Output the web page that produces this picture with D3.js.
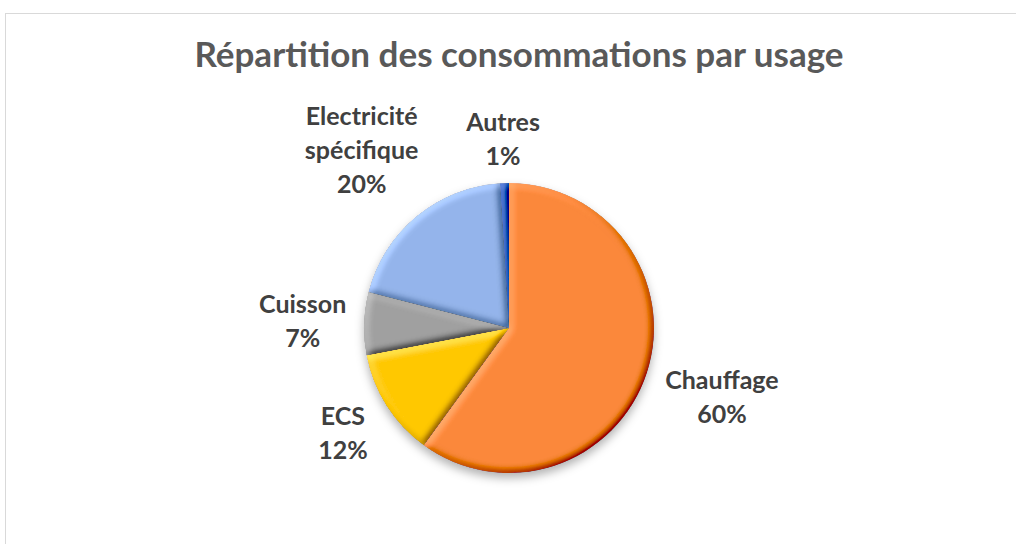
<!DOCTYPE html>
<html>
<head>
<meta charset="utf-8">
<script src="https://cdn.jsdelivr.net/npm/d3@7"></script>
<style>
  body { margin: 0; background: #fff; }
</style>
</head>
<body>
<div class="graph"></div>
<script>
const categories = ["Chauffage", "ECS", "Cuisson", "Electricité spécifique", "Autres"]
const labelLines = [["Chauffage"], ["ECS"], ["Cuisson"], ["Electricité", "spécifique"], ["Autres"]]
const values = [60, 12, 7, 20, 1]
const colors = ["#FA883A", "#FFC800", "#A0A0A0", "#94B4EA", "#2C5FBE"]

const width = 1016, height = 544
const cx = 509, cy = 328, radius = 145

const data = categories.map((c, i) => ({ name: c, lines: labelLines[i], value: values[i], color: colors[i] }))
const total = d3.sum(values)

const svg = d3.select(".graph").append("svg")
    .attr("width", width)
    .attr("height", height)
    .style("font-family", "Lato, 'Open Sans', sans-serif")

const defs = svg.append("defs")

// bevel : lumière en haut à gauche sur chaque part
const bevel = defs.append("filter").attr("id", "bevel")
    .attr("x", "-5%").attr("y", "-5%").attr("width", "110%").attr("height", "110%")
bevel.append("feGaussianBlur").attr("in", "SourceAlpha").attr("stdDeviation", 3.5).attr("result", "blur")
bevel.append("feDiffuseLighting")
    .attr("in", "blur").attr("surfaceScale", 3).attr("diffuseConstant", 0.5 / Math.sin(Math.PI / 4))
    .attr("lighting-color", "#fff").attr("result", "light")
    .append("feDistantLight").attr("azimuth", 225).attr("elevation", 45)
// flat : L = 0.5 -> couleur inchangée ; bords sombres multipliés, bords clairs éclaircis
bevel.append("feComposite")
    .attr("in", "SourceGraphic").attr("in2", "light")
    .attr("operator", "arithmetic")
    .attr("k1", 1.4).attr("k2", 0.3).attr("k3", 0.4).attr("k4", -0.2)
    .attr("result", "lit")
bevel.append("feComposite").attr("in", "lit").attr("in2", "SourceAlpha").attr("operator", "in")

// ombre portée sous le camembert
const shadow = defs.append("filter").attr("id", "shadow")
    .attr("x", "-20%").attr("y", "-20%").attr("width", "140%").attr("height", "150%")
shadow.append("feDropShadow")
    .attr("dx", 0).attr("dy", 5).attr("stdDeviation", 5)
    .attr("flood-color", "#000").attr("flood-opacity", 0.3)

// cadre de la zone graphique
svg.append("rect")
    .attr("x", 5.5).attr("y", 13.5)
    .attr("width", width + 20).attr("height", height + 20)
    .attr("fill", "#fff")
    .attr("stroke", "#d9d9d9")
    .attr("stroke-width", 1)

svg.append("text")
    .attr("x", 519)
    .attr("y", 67)
    .attr("text-anchor", "middle")
    .style("font-size", "35px")
    .style("font-weight", "bold")
    .style("fill", "#595959")
    .text("Répartition des consommations par usage")

const pie = d3.pie().sort(null).value(d => d.value)
const arc = d3.arc().innerRadius(0).outerRadius(radius)
const arcs = pie(data)

const g = svg.append("g")
    .attr("transform", `translate(${cx}, ${cy})`)

g.append("g")
    .attr("filter", "url(#shadow)")
    .selectAll("path")
    .data(arcs)
    .join("path")
    .attr("d", arc)
    .attr("fill", d => d.data.color)
    .attr("filter", "url(#bevel)")

// étiquettes
const fontSize = 25, lineH = 34, capH = fontSize * 0.7, gap = 17

const labels = g.append("g")
    .selectAll("g")
    .data(arcs)
    .join("g")

labels.each(function(d) {
    const lines = d.data.lines.concat([Math.round(d.data.value / total * 100) + "%"])
    const t = d3.select(this).append("text")
        .attr("text-anchor", "middle")
        .style("font-size", fontSize + "px")
        .style("font-weight", "bold")
        .style("fill", "#404040")
    lines.forEach((l, i) => {
        t.append("tspan").attr("x", 0).attr("y", i * lineH).text(l)
    })
    const w = t.node().getBBox().width
    const h = (lines.length - 1) * lineH + capH
    const a = (d.startAngle + d.endAngle) / 2
    const s = Math.sin(a), c = Math.cos(a)
    const dist = radius + gap + Math.abs(s) * w / 2 + Math.abs(c) * h / 2
    const px = s * dist, py = -c * dist
    // centre visuel du bloc : entre le haut des capitales et la dernière ligne de base
    const offY = -capH + h / 2
    d3.select(this).attr("transform", `translate(${px}, ${py - offY})`)
})
</script>
</body>
</html>
